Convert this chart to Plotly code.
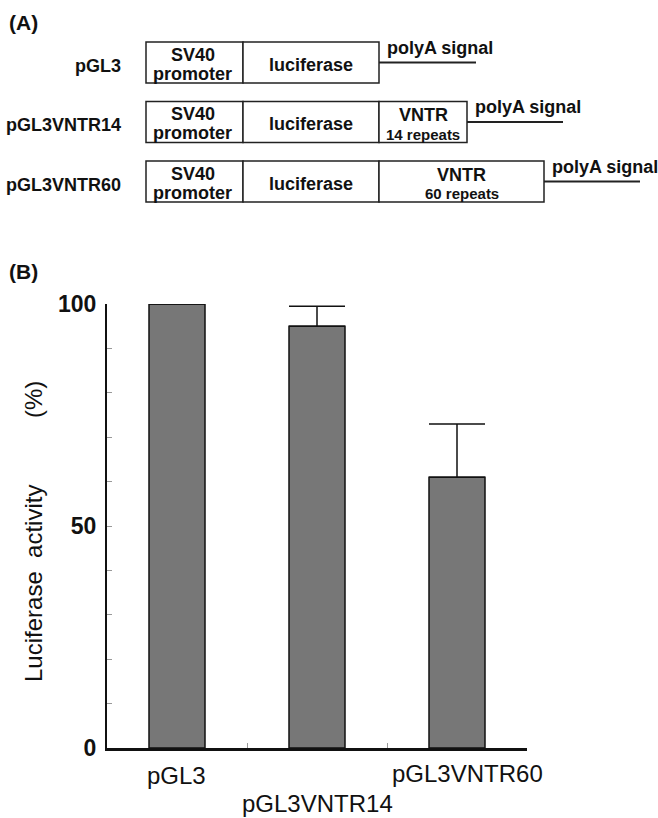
import plotly.graph_objects as go

# ---------------- data ----------------
# Panel B: luciferase activity (%)
categories = ["pGL3", "pGL3VNTR14", "pGL3VNTR60"]
activity = [100, 95, 61]
activity_err = [0, 4.5, 12]
y_ticks = [0, 50, 100]

# Panel A: construct schematic (schematic segment lengths, arbitrary units)
constructs = ["pGL3", "pGL3VNTR14", "pGL3VNTR60"]
promoter_len = [97, 97, 97]
luciferase_len = [136, 136, 136]
vntr_len = [0, 88, 165]
vntr_repeats = [None, 14, 60]
polyA_len = [97, 96, 96]

# ---------------- geometry helpers ----------------
W, H = 658, 818


def fx(px):  # page pixel x -> paper fraction
    return px / W


def fy(py):  # page pixel y -> paper fraction
    return 1 - py / H


FONT = "Liberation Sans, Arial, Helvetica, sans-serif"
BAR_GREY = "#777777"

fig = go.Figure()
fig.add_trace(go.Bar(
    x=categories, y=activity, width=0.4,
    marker=dict(color=BAR_GREY, line=dict(color="#111111", width=1.5)),
    error_y=dict(type="data", symmetric=False, array=activity_err,
                 arrayminus=[0] * len(activity_err),
                 color="#111111", thickness=1.5, width=28),
    xaxis="x", yaxis="y", showlegend=False, hoverinfo="skip",
))
# invisible trace that activates the schematic axes of panel A
fig.add_trace(go.Scatter(x=[0], y=[0], mode="markers", marker=dict(opacity=0),
                         xaxis="x2", yaxis="y2", showlegend=False, hoverinfo="skip"))

shapes = []
annotations = []
ROW0, ROWSTEP = 62.5, 59.5      # page px of first row centre, row spacing
HALF = 20.5 / ROWSTEP           # half box height in row units
BOX_X0 = 146                    # page px where the boxes start
LW = 1.5
f18 = dict(family=FONT, size=18, color="#111")

for i, name in enumerate(constructs):
    x0 = 0
    x1 = x0 + promoter_len[i]
    x2 = x1 + luciferase_len[i]
    x3 = x2 + vntr_len[i]
    x4 = x3 + polyA_len[i]
    box = dict(line=dict(color="#222", width=LW), fillcolor="white", layer="above")
    shapes.append(dict(type="rect", xref="x2", yref="y2", x0=x0, x1=x1,
                       y0=i - HALF, y1=i + HALF, **box))
    shapes.append(dict(type="rect", xref="x2", yref="y2", x0=x1, x1=x2,
                       y0=i - HALF, y1=i + HALF, **box))
    if vntr_len[i] > 0:
        shapes.append(dict(type="rect", xref="x2", yref="y2", x0=x2, x1=x3,
                           y0=i - HALF, y1=i + HALF, **box))
    shapes.append(dict(type="line", xref="x2", yref="y2", x0=x3, x1=x4, y0=i, y1=i,
                       line=dict(color="#222", width=2), layer="above"))
    # row label
    annotations.append(dict(xref="x2", yref="y2", x=0, y=i, xanchor="right", yanchor="middle",
                            xshift=-23, yshift=-3, text=f"<b>{name}</b>", showarrow=False,
                            font=f18))
    # promoter text
    annotations.append(dict(xref="x2", yref="y2", x=(x0 + x1) / 2, y=i, xanchor="center",
                            yanchor="middle", yshift=8, xshift=-2, text="<b>SV40</b>",
                            showarrow=False, font=f18))
    annotations.append(dict(xref="x2", yref="y2", x=(x0 + x1) / 2, y=i, xanchor="center",
                            yanchor="middle", yshift=-11, xshift=-2, text="<b>promoter</b>",
                            showarrow=False, font=f18))
    # luciferase text
    annotations.append(dict(xref="x2", yref="y2", x=(x1 + x2) / 2, y=i, xanchor="center",
                            yanchor="middle", yshift=-2, text="<b>luciferase</b>",
                            showarrow=False, font=f18))
    # VNTR text
    if vntr_len[i] > 0:
        annotations.append(dict(xref="x2", yref="y2", x=(x2 + x3) / 2, y=i, xanchor="center",
                                yanchor="middle", yshift=7, text="<b>VNTR</b>",
                                showarrow=False, font=f18))
        annotations.append(dict(xref="x2", yref="y2", x=(x2 + x3) / 2, y=i, xanchor="center",
                                yanchor="middle", yshift=-12,
                                text=f"<b>{vntr_repeats[i]} repeats</b>",
                                showarrow=False, font=dict(family=FONT, size=15, color="#111")))
    # polyA signal text
    annotations.append(dict(xref="x2", yref="y2", x=x3, y=i, xanchor="left", yanchor="bottom",
                            xshift=6, yshift=3, text="<b>polyA signal</b>",
                            showarrow=False, font=f18))

# panel letters
annotations.append(dict(xref="paper", yref="paper", x=fx(7), y=fy(23), xanchor="left",
                        yanchor="middle", text="<b>(A)</b>", showarrow=False,
                        font=dict(family=FONT, size=21, color="#111")))
annotations.append(dict(xref="paper", yref="paper", x=fx(7), y=fy(271), xanchor="left",
                        yanchor="middle", text="<b>(B)</b>", showarrow=False,
                        font=dict(family=FONT, size=21, color="#111")))

# category labels (staggered)
cat_yshift = [-27, -55, -25]
cat_xshift = [-1, 0, 10]
for c, ys, xs in zip(categories, cat_yshift, cat_xshift):
    annotations.append(dict(xref="x", yref="y", x=c, y=0, xanchor="center", yanchor="middle",
                            xshift=xs, yshift=ys, text=c, showarrow=False, borderpad=0,
                            font=dict(family=FONT, size=24, color="#111")))

# y axis title
annotations.append(dict(xref="paper", yref="paper", x=fx(33), y=fy(584), xanchor="center",
                        yanchor="middle", textangle=-90,
                        text="Luciferase\u00a0\u00a0activity", showarrow=False,
                        font=dict(family=FONT, size=24, color="#111")))
annotations.append(dict(xref="paper", yref="paper", x=fx(33), y=fy(400), xanchor="center",
                        yanchor="middle", textangle=-90, text="(%)", showarrow=False,
                        font=dict(family=FONT, size=24, color="#111")))

PANEL_A_BOTTOM = 220
fig.update_layout(
    width=W, height=H, autosize=False,
    margin=dict(l=0, r=0, t=0, b=0, pad=0, autoexpand=False),
    paper_bgcolor="white", plot_bgcolor="white",
    font=dict(family=FONT, color="#111"),
    xaxis=dict(domain=[fx(107), fx(527)], anchor="y", type="category",
               categoryorder="array", categoryarray=categories,
               range=[-0.5, 2.5], showgrid=False, zeroline=False, automargin=False,
               showline=True, linecolor="#111", linewidth=2.5,
               tickson="boundaries", ticks="inside", ticklen=5, tickwidth=1,
               tickcolor="#999", showticklabels=False, fixedrange=True),
    yaxis=dict(domain=[fy(748), fy(304)], anchor="x", automargin=False,
               range=[0, 100], showgrid=False, zeroline=False,
               showline=True, linecolor="#111", linewidth=2,
               tickvals=y_ticks, ticktext=[str(v) for v in y_ticks],
               ticks="inside", ticklen=5, tickwidth=1, tickcolor="#999",
               tickfont=dict(family=FONT, size=23, color="#111", weight="bold"),
               ticklabelstandoff=4,
               minor=dict(dtick=10, ticks="inside", ticklen=5, tickwidth=1,
                          tickcolor="#999", showgrid=False),
               fixedrange=True),
    xaxis2=dict(domain=[0, 1], anchor="y2", automargin=False,
                range=[-BOX_X0, W - BOX_X0], visible=False, fixedrange=True),
    yaxis2=dict(domain=[fy(PANEL_A_BOTTOM), 1], anchor="x2", automargin=False,
                range=[(PANEL_A_BOTTOM - ROW0) / ROWSTEP, -ROW0 / ROWSTEP],
                visible=False, fixedrange=True),
    shapes=shapes,
    annotations=annotations,
)

fig.write_html(
    "out.html",
    config={"displayModeBar": False},
    post_script="document.body.style.margin='0';"
                "document.documentElement.style.overflow='hidden';",
)
